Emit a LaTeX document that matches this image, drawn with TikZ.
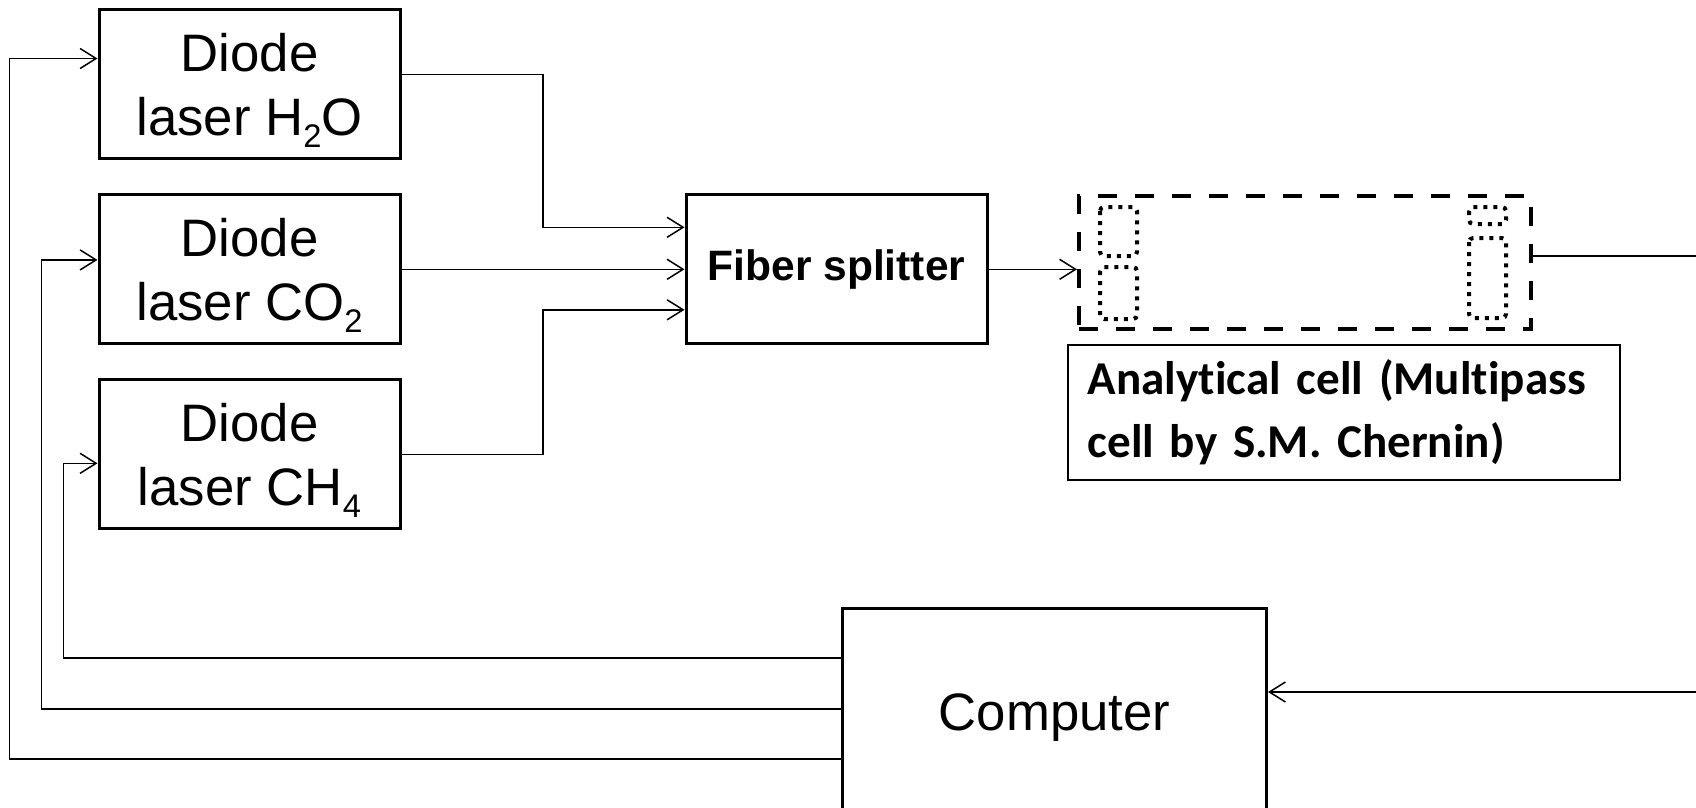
\documentclass[tikz,border=0pt]{standalone}
\usepackage{fontspec}
\setmainfont{Liberation Sans}
\newfontfamily\cellfont[Ligatures=NoCommon]{Carlito}
\usepackage{tikz}
\usetikzlibrary{
  arrows.meta,
  positioning,
  calc
}

% lowered subscript as the slide prints it
\newcommand{\chemsub}[1]{\raisebox{-0.24em}{\fontsize{9.3}{9.3}\selectfont #1}}

\tikzset{
  laser/.style={draw, line width=0.3mm, minimum width=30.1mm, minimum height=14.9mm,
    inner sep=0pt, align=center, text depth=0pt, font=\fontsize{15}{18}\selectfont},
  wire/.style={line width=0.15mm, -{Straight Barb[length=1.6mm, width=2mm]}},
  plainwire/.style={line width=0.15mm},
  mirror/.style={line width=0.4mm, dash pattern=on 0.4mm off 0.6mm, rounded corners=0.4mm}
}

\begin{document}
\begin{tikzpicture}[x=0.1mm, y=-0.1mm]

  \useasboundingbox (0,0) rectangle (1696,807);
  \clip (0,0) rectangle (1696,807);

  % LASERS - left column
  \node[laser] (h2o) at (249.5,84.3) {Diode\\laser H\chemsub{2}O};
  \node[laser, below=3.3mm of h2o] (co2) {Diode\\laser CO\chemsub{2}};
  \node[laser, below=3.3mm of co2] (ch4) {Diode\\laser CH\chemsub{4}};

  % splitter
  \node[laser, right=28.3mm of co2, text depth=, font=\bfseries\fontsize{12.1}{14}\selectfont] (split) {Fiber splitter};

  % ANALYTICAL CELL - dashed body with dotted mirrors
  \node[draw, line width=0.4mm, dash pattern=on 1.9mm off 1.8mm,
    minimum width=45.2mm, minimum height=13.3mm] (cell) at (1305,262.5) {};
  \draw[mirror] (1100,207) rectangle (1137,256);
  \draw[mirror] (1100,267) rectangle (1137,319);
  \draw[mirror] (1469,207) rectangle (1506,224);
  \draw[mirror] (1469,238) rectangle (1506,318);
  \node[draw, line width=0.15mm, below right=1.3mm and -1mm of cell.south west,
    text width=51.2mm, inner xsep=2mm, inner ysep=0pt, minimum height=13.5mm, align=left,
    font=\cellfont\bfseries\fontsize{13.4}{17.8}\selectfont] (celllabel)
    {Analytical cell (Multipass\\cell by S.M. Chernin)};

  % computer - bottom edge runs off the picture
  \node[draw, line width=0.3mm, minimum width=42.4mm, minimum height=22mm,
    font=\fontsize{15}{18}\selectfont] (pc) at (1054.5,718) {Computer};

  % detector side, outside the frame
  \coordinate (detA) at (1720,256);
  \coordinate (detB) at (1720,692);

  % laser outputs into the splitter
  \draw[wire] ([yshift=0.96mm]h2o.east) -| ([xshift=-14.15mm, yshift=4.2mm]split.west)
    -- ([yshift=4.2mm]split.west);
  \draw[wire] (co2.east) -- (split.west);
  \draw[wire] (ch4.east) -| ([xshift=-14.15mm, yshift=-4.05mm]split.west)
    -- ([yshift=-4.05mm]split.west);

  % splitter to cell, cell to detector
  \draw[wire] (split.east) -- (split.east -| cell.west);
  \draw[plainwire] (cell.east |- detA) -- (detA);
  \draw[wire] (detB) -- (detB -| pc.east);

  % computer control back to the lasers
  \draw[wire] ([yshift=-4.1mm]pc.west) -| ([xshift=-8.8mm, yshift=2.58mm]h2o.west)
    -- ([yshift=2.58mm]h2o.west);
  \draw[wire] ([yshift=0.9mm]pc.west) -| ([xshift=-5.6mm, yshift=0.94mm]co2.west)
    -- ([yshift=0.94mm]co2.west);
  \draw[wire] ([yshift=6mm]pc.west) -| ([xshift=-3.4mm, yshift=-0.9mm]ch4.west)
    -- ([yshift=-0.9mm]ch4.west);

\end{tikzpicture}
\end{document}
